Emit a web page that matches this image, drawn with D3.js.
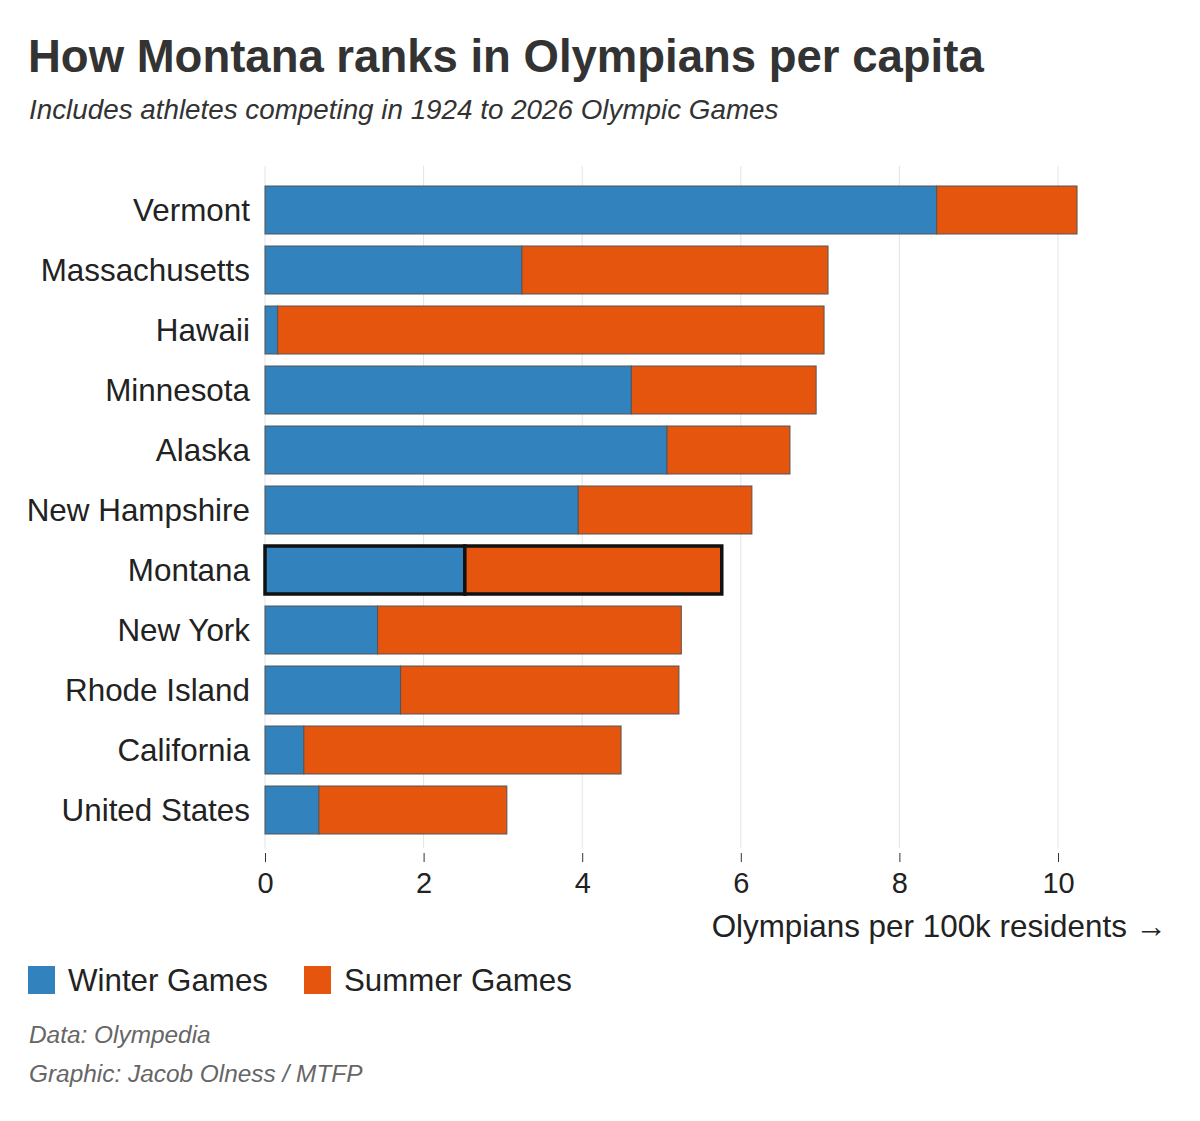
<!DOCTYPE html>
<html>
<head>
<meta charset="utf-8">
<script src="https://cdn.jsdelivr.net/npm/d3@7"></script>
<style>
  body { margin: 0; background: #fff; font-family: "Liberation Sans", Arial, sans-serif; }
</style>
</head>
<body>
<svg id="chart" width="1200" height="1121"></svg>
<script>
var states = ['Vermont', 'Massachusetts', 'Hawaii', 'Minnesota', 'Alaska', 'New Hampshire',
  'Montana', 'New York', 'Rhode Island', 'California', 'United States'];
var winter = [8.47, 3.24, 0.16, 4.62, 5.07, 3.95, 2.52, 1.42, 1.71, 0.49, 0.68];
var summer = [1.77, 3.86, 6.89, 2.33, 1.55, 2.19, 3.24, 3.83, 3.51, 4.00, 2.37];
var xTicks = [0, 2, 4, 6, 8, 10];
var highlight = 'Montana';

var blue = '#3182bd';
var orange = '#e6550d';

var svg = d3.select('#chart');

var x = d3.scaleLinear().domain([0, 10]).range([265, 1058]);
var y = d3.scaleBand().domain(states).range([180, 840]).paddingInner(0.2).paddingOuter(0.1);

svg.append('text')
  .attr('x', 28).attr('y', 72)
  .style('font-size', '45.5px').style('font-weight', 'bold').style('fill', '#333')
  .text('How Montana ranks in Olympians per capita');

svg.append('text')
  .attr('x', 29).attr('y', 119)
  .style('font-size', '27.8px').style('font-style', 'italic').style('fill', '#333')
  .text('Includes athletes competing in 1924 to 2026 Olympic Games');

// gridlines
svg.append('g').selectAll('line')
  .data(xTicks)
  .enter().append('line')
  .attr('x1', function(d) { return x(d); })
  .attr('x2', function(d) { return x(d); })
  .attr('y1', 166).attr('y2', 848)
  .style('stroke', '#e4e4e4').style('stroke-width', 1);

var rows = states.map(function(s, i) {
  return { state: s, winter: winter[i], summer: summer[i] };
});

var bars = svg.append('g').selectAll('g')
  .data(rows)
  .enter().append('g');

bars.append('rect')
  .attr('x', x(0))
  .attr('y', function(d) { return y(d.state); })
  .attr('width', function(d) { return x(d.winter) - x(0); })
  .attr('height', y.bandwidth())
  .style('fill', blue)
  .style('stroke', function(d) { return d.state === highlight ? '#111' : '#555'; })
  .style('stroke-width', function(d) { return d.state === highlight ? 3.5 : 1; });

bars.append('rect')
  .attr('x', function(d) { return x(d.winter); })
  .attr('y', function(d) { return y(d.state); })
  .attr('width', function(d) { return x(d.winter + d.summer) - x(d.winter); })
  .attr('height', y.bandwidth())
  .style('fill', orange)
  .style('stroke', function(d) { return d.state === highlight ? '#111' : '#555'; })
  .style('stroke-width', function(d) { return d.state === highlight ? 3.5 : 1; });

// state labels
svg.append('g').selectAll('text')
  .data(states)
  .enter().append('text')
  .attr('x', 250)
  .attr('y', function(d) { return y(d) + y.bandwidth() / 2; })
  .attr('dy', '0.35em')
  .attr('text-anchor', 'end')
  .style('font-size', '31.4px').style('fill', '#222')
  .text(function(d) { return d; });

// x axis
var xAxis = d3.axisBottom(x).tickValues(xTicks).tickSize(9).tickPadding(10).tickFormat(d3.format('d'));
var gx = svg.append('g')
  .attr('transform', 'translate(0,853)')
  .call(xAxis);
gx.select('.domain').remove();
gx.selectAll('.tick line').style('stroke', '#333');
gx.selectAll('.tick text')
  .style('font-size', '29px').style('fill', '#222')
  .style('font-family', '"Liberation Sans", Arial, sans-serif');

svg.append('text')
  .attr('x', 1167).attr('y', 937)
  .attr('text-anchor', 'end')
  .style('font-size', '31.4px').style('fill', '#222')
  .text('Olympians per 100k residents \u2192');

// legend
var legendItems = [
  { label: 'Winter Games', color: blue, x: 28 },
  { label: 'Summer Games', color: orange, x: 304 }
];
var legend = svg.append('g').selectAll('g')
  .data(legendItems)
  .enter().append('g')
  .attr('transform', function(d) { return 'translate(' + d.x + ',966)'; });
legend.append('rect')
  .attr('width', 27).attr('height', 28)
  .style('fill', function(d) { return d.color; });
legend.append('text')
  .attr('x', 40).attr('y', 25)
  .style('font-size', '31.3px').style('fill', '#222')
  .text(function(d) { return d.label; });

svg.append('text')
  .attr('x', 29).attr('y', 1043)
  .style('font-size', '24.4px').style('font-style', 'italic').style('fill', '#666')
  .text('Data: Olympedia');
svg.append('text')
  .attr('x', 29).attr('y', 1082)
  .style('font-size', '24.4px').style('font-style', 'italic').style('fill', '#666')
  .text('Graphic: Jacob Olness / MTFP');
</script>
</body>
</html>
